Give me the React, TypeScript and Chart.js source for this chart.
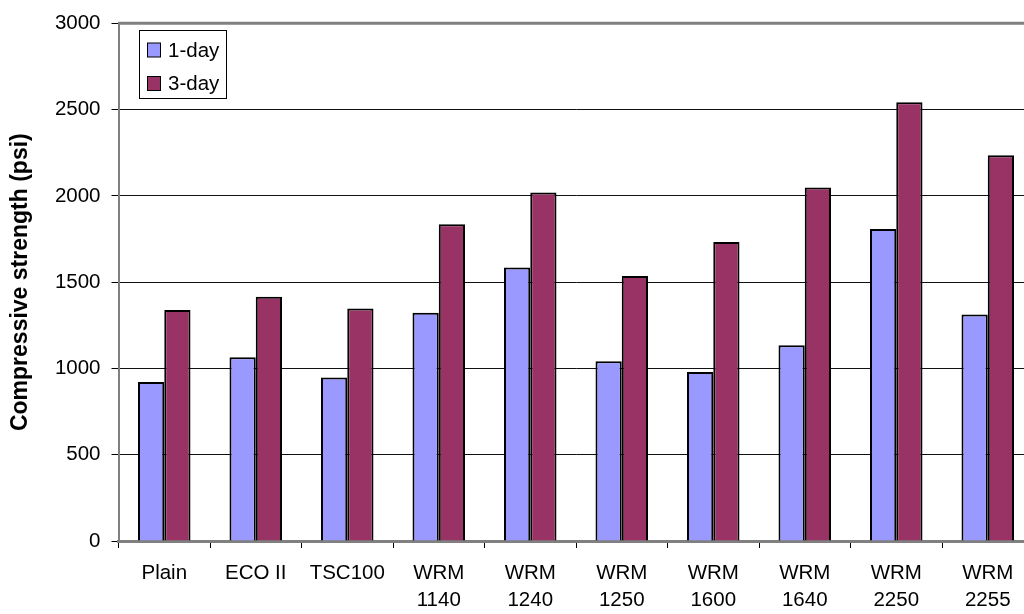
import React, { useEffect, useRef } from 'react';
import { Chart, registerables } from 'chart.js';

Chart.register(...registerables);

const categories: (string | string[])[] = [
  'Plain',
  'ECO II',
  'TSC100',
  ['WRM', '1140'],
  ['WRM', '1240'],
  ['WRM', '1250'],
  ['WRM', '1600'],
  ['WRM', '1640'],
  ['WRM', '2250'],
  ['WRM', '2255'],
];
const seriesNames = ['1-day', '3-day'];
const oneDay = [921, 1065, 947, 1322, 1585, 1041, 980, 1135, 1808, 1312];
const threeDay = [1339, 1415, 1348, 1835, 2019, 1535, 1732, 2048, 2543, 2235];
const yMin = 0;
const yMax = 3000;
const yStep = 500;
const yTitle = 'Compressive strength (psi)';

const FONT = "'Liberation Sans', Arial, sans-serif";
const COLORS = ['#9999FF', '#993366'];

const frame = {
  id: 'frame',
  afterDraw(chart: any) {
    const { ctx, chartArea } = chart;
    ctx.save();
    ctx.strokeStyle = '#808080';
    ctx.lineWidth = 3;
    ctx.beginPath();
    ctx.moveTo(chartArea.left, chartArea.top);
    ctx.lineTo(chartArea.right, chartArea.top);
    ctx.lineTo(chartArea.right, chartArea.bottom);
    ctx.stroke();
    ctx.restore();
  },
};

const boxLegend = {
  id: 'boxLegend',
  afterDraw(chart: any) {
    const { ctx } = chart;
    const x = 139.5;
    const y = 30.5;
    const w = 87;
    const h = 68;
    ctx.save();
    ctx.fillStyle = '#fff';
    ctx.fillRect(x, y, w, h);
    ctx.strokeStyle = '#000';
    ctx.lineWidth = 1;
    ctx.strokeRect(x, y, w, h);
    ctx.font = `20.5px ${FONT}`;
    ctx.textBaseline = 'middle';
    ctx.textAlign = 'left';
    chart.data.datasets.forEach((ds: any, i: number) => {
      const cy = 50 + i * 33.5;
      ctx.fillStyle = ds.backgroundColor;
      ctx.fillRect(147.5, cy - 7, 13, 14);
      ctx.strokeStyle = '#000';
      ctx.strokeRect(147.5, cy - 7, 13, 14);
      ctx.fillStyle = '#000';
      ctx.fillText(ds.label, 168, cy + 1);
    });
    ctx.restore();
  },
};

export default function App() {
  const ref = useRef<HTMLCanvasElement>(null);
  useEffect(() => {
    if (!ref.current) return;
    const chart = new Chart(ref.current, {
      type: 'bar',
      data: {
        labels: categories,
        datasets: [
          {
            label: seriesNames[0],
            data: oneDay,
            backgroundColor: COLORS[0],
            borderColor: '#000',
            borderWidth: 2,
            categoryPercentage: 0.574,
            barPercentage: 1,
          },
          {
            label: seriesNames[1],
            data: threeDay,
            backgroundColor: COLORS[1],
            borderColor: '#000',
            borderWidth: 2,
            categoryPercentage: 0.574,
            barPercentage: 1,
          },
        ],
      },
      options: {
        animation: false,
        responsive: false,
        devicePixelRatio: 1,
        layout: { padding: { top: 16, right: 6.5, bottom: 0, left: 0 } },
        plugins: {
          legend: { display: false },
          tooltip: { enabled: false },
        },
        scales: {
          x: {
            offset: true,
            grid: {
              offset: true,
              drawOnChartArea: false,
              drawTicks: true,
              tickLength: 7,
              color: '#000',
              lineWidth: 1,
            },
            border: { color: '#808080', width: 3 },
            ticks: {
              color: '#000',
              font: { family: FONT, size: 20.5, lineHeight: 1.3 },
              padding: 12,
              maxRotation: 0,
              autoSkip: false,
            },
            afterFit: (s: any) => {
              s.height = 73;
            },
          },
          y: {
            min: yMin,
            max: yMax,
            ticks: {
              stepSize: yStep,
              color: '#000',
              font: { family: FONT, size: 20.5 },
              padding: 11,
              callback: (v: any) => String(v),
            },
            grid: {
              color: '#111',
              lineWidth: 1,
              tickLength: 7,
              tickColor: '#000',
            },
            border: { color: '#808080', width: 2 },
            title: {
              display: true,
              text: yTitle,
              color: '#000',
              font: { family: FONT, size: 23, weight: 'bold' },
              padding: { top: 7, bottom: 0 },
            },
            afterFit: (s: any) => {
              s.width = 118.5;
            },
          },
        },
      },
      plugins: [frame, boxLegend],
    });
    return () => chart.destroy();
  }, []);
  return (
    <div
      style={{
        position: 'fixed',
        left: 0,
        top: 0,
        width: 1024,
        height: 614,
        overflow: 'hidden',
        background: '#fff',
      }}
    >
      <canvas ref={ref} width={1040} height={614} style={{ display: 'block' }} />
    </div>
  );
}
